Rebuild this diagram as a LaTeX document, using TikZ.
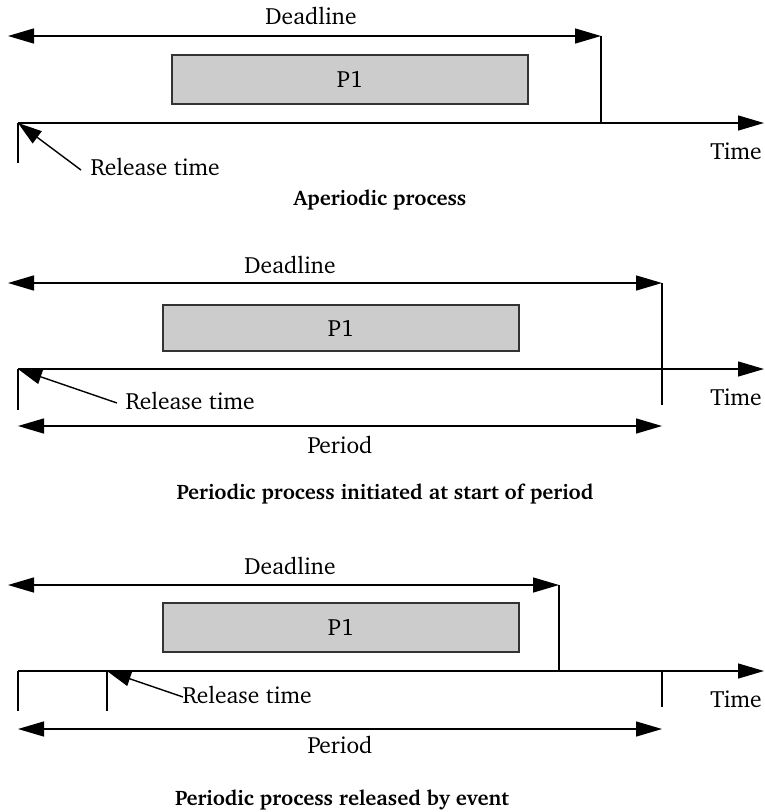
\documentclass[tikz,border=0pt]{standalone}
\usepackage[T1]{fontenc}
\usepackage{charter}
\usetikzlibrary{arrows.meta}
\definecolor{procgray}{HTML}{CCCCCC}
\tikzset{
  line/.style={line width=1.4pt},
  span/.style={line,{Triangle[length=26pt,width=15pt]}-{Triangle[length=26pt,width=15pt]}},
  axis/.style={line,-{Triangle[length=26pt,width=15pt]}},
  release/.style={line,-{Triangle[length=24pt,width=15pt]}},
  proc/.style={draw=black!80,line,fill=procgray,minimum width=356pt,inner sep=0pt},
  title/.style={font=\fontsize{21}{25}\selectfont\bfseries}
}
\begin{document}
\begin{tikzpicture}[x=1pt,y=-1pt,font=\fontsize{23.5}{28}\selectfont]
  \useasboundingbox (0,0) rectangle (764,812);
  % aperiodic process
  \coordinate (dA1) at (8,36);    \coordinate (dB1) at (601,36);
  \coordinate (tA1) at (18,123);  \coordinate (tB1) at (764,123);
  \coordinate (dC1) at (601,123); \coordinate (rA1) at (18,163);
  \coordinate (rT1) at (81,170);
  \node (dl1) at (311,16) {Deadline};
  \node[proc,minimum height=49pt] (p1a) at (350,79.5) {P1};
  \draw[span] (dA1) -- (dB1);
  \draw[line] (dB1) -- (dC1);
  \draw[axis] (tA1) -- (tB1);
  \draw[line] (tA1) -- (rA1);
  \draw[release] (rT1) -- (tA1);
  \node[anchor=west] (rl1) at (87,167) {Release time};
  \node (tm1) at (736,151) {Time};
  \node[title] (ttl1) at (380,200) {Aperiodic process};
  % periodic process, start of period
  \coordinate (dA2) at (8,283);    \coordinate (dB2) at (662,283);
  \coordinate (tA2) at (18,369);   \coordinate (tB2) at (764,369);
  \coordinate (dC2) at (662,405);  \coordinate (rA2) at (18,410);
  \coordinate (rT2) at (117,403);
  \coordinate (pA2) at (18,426);   \coordinate (pB2) at (662,426);
  \node (dl2) at (290,265) {Deadline};
  \node[proc,minimum height=46pt] (p1b) at (341,328) {P1};
  \draw[span] (dA2) -- (dB2);
  \draw[line] (dB2) -- (dC2);
  \draw[axis] (tA2) -- (tB2);
  \draw[line] (tA2) -- (rA2);
  \draw[release] (rT2) -- (tA2);
  \node[anchor=west] (rl2) at (122,401) {Release time};
  \node (tm2) at (736,397) {Time};
  \draw[span] (pA2) -- (pB2);
  \node (pd2) at (340,445) {Period};
  \node[title] (ttl2) at (385,494) {Periodic process initiated at start of period};
  % periodic process, released by event
  \coordinate (dA3) at (8,585);    \coordinate (dB3) at (559,585);
  \coordinate (tA3) at (18,671);   \coordinate (tB3) at (764,671);
  \coordinate (dC3) at (559,671);  \coordinate (rA3) at (18,711);
  \coordinate (eA3) at (107,671);  \coordinate (eB3) at (107,711);
  \coordinate (rT3) at (183,697);
  \coordinate (kA3) at (662,671);  \coordinate (kB3) at (662,707);
  \coordinate (pA3) at (18,729);   \coordinate (pB3) at (662,729);
  \node (dl3) at (290,566) {Deadline};
  \node[proc,minimum height=49pt] (p1c) at (341,627.5) {P1};
  \draw[span] (dA3) -- (dB3);
  \draw[line] (dB3) -- (dC3);
  \draw[axis] (tA3) -- (tB3);
  \draw[line] (tA3) -- (rA3);
  \draw[line] (eA3) -- (eB3);
  \draw[line] (kA3) -- (kB3);
  \draw[release] (rT3) -- (eA3);
  \node[anchor=west] (rl3) at (179,695) {Release time};
  \node (tm3) at (736,699) {Time};
  \draw[span] (pA3) -- (pB3);
  \node (pd3) at (340,745) {Period};
  \node[title] (ttl3) at (342,800) {Periodic process released by event};
\end{tikzpicture}
\end{document}
